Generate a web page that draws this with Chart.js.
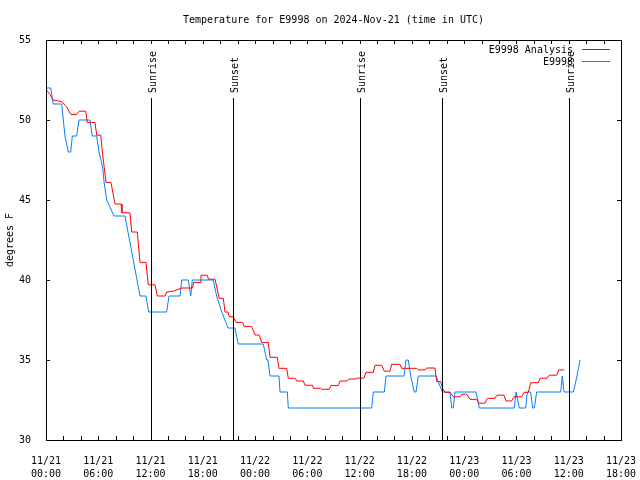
<!DOCTYPE html>
<html>
<head>
<meta charset="utf-8">
<script src="https://cdn.jsdelivr.net/npm/chart.js@4"></script>
<style>
  html, body { margin: 0; padding: 0; background: #ffffff; }
  #grafica { display: block; }
</style>
</head>
<body>
<canvas id="grafica" width="640" height="480"></canvas>
<script>
// hours since 11/21 00:00 UTC
var horasAnalisis = [0, 0.46, 0.80, 1.80, 2.38, 2.84, 3.52, 3.82, 4.56, 4.74, 5.62, 5.82, 6.28, 6.51, 6.69, 6.89, 7.46, 7.92, 8.61, 8.72, 9.64, 9.84, 10.48, 10.79, 11.48, 11.74, 12.51, 12.78, 13.66, 13.85, 14.61, 15.58, 16.84, 16.93, 17.68, 17.79, 18.51, 18.65, 19.40, 19.63, 19.89, 20.35, 20.55, 20.89, 21.04, 21.50, 21.81, 22.58, 22.73, 23.61, 23.99, 24.48, 24.76, 25.52, 25.71, 26.55, 26.74, 27.63, 27.81, 28.58, 28.78, 29.53, 29.73, 30.61, 30.68, 31.53, 31.65, 32.52, 32.71, 33.55, 33.75, 34.58, 34.78, 35.58, 35.73, 36.50, 36.73, 37.57, 37.76, 38.53, 38.83, 39.49, 39.68, 40.63, 40.83, 42.55, 42.73, 43.50, 43.70, 44.65, 44.85, 45.31, 45.54, 45.80, 46.37, 46.75, 47.52, 47.72, 48.29, 48.67, 49.41, 49.70, 50.39, 50.65, 51.54, 51.77, 52.57, 52.80, 53.45, 53.72, 54.60, 54.87, 55.36, 55.64, 56.51, 56.70, 57.51, 57.77, 58.62, 58.85, 59.49]
var tempAnalisis = [51.9, 51.6, 51.25, 51.15, 50.8, 50.35, 50.35, 50.55, 50.55, 49.85, 49.85, 49.05, 49.05, 47.8, 47, 46.1, 46.1, 44.75, 44.75, 44.2, 44.2, 43.0, 43.0, 41.1, 41.1, 39.7, 39.7, 39.0, 39.0, 39.25, 39.3, 39.5, 39.5, 39.85, 39.85, 40.3, 40.3, 40.05, 40.05, 39.5, 38.85, 38.85, 38.0, 38.0, 37.7, 37.7, 37.35, 37.35, 37.1, 37.1, 36.56, 36.56, 36.1, 36.1, 35.17, 35.17, 34.48, 34.48, 33.86, 33.86, 33.69, 33.69, 33.42, 33.42, 33.23, 33.23, 33.17, 33.17, 33.4, 33.4, 33.69, 33.69, 33.81, 33.81, 33.87, 33.87, 34.23, 34.23, 34.67, 34.67, 34.3, 34.3, 34.73, 34.73, 34.48, 34.48, 34.38, 34.38, 34.5, 34.5, 33.65, 33.65, 33.2, 32.98, 32.98, 32.7, 32.7, 32.86, 32.86, 32.54, 32.54, 32.3, 32.3, 32.6, 32.6, 32.8, 32.8, 32.44, 32.44, 32.7, 32.7, 32.98, 32.98, 33.58, 33.58, 33.86, 33.86, 34.05, 34.05, 34.38, 34.38]

var horasEstacion = [0, 0.54, 0.84, 1.80, 1.99, 2.18, 2.56, 2.84, 3.02, 3.52, 3.79, 5.05, 5.31, 5.82, 6.08, 6.51, 6.69, 6.97, 7.81, 9.07, 9.41, 9.76, 10.10, 10.45, 10.79, 11.48, 11.79, 13.85, 14.12, 15.38, 15.58, 16.33, 16.61, 16.79, 19.20, 19.59, 20.17, 20.89, 21.69, 22.07, 24.94, 25.33, 25.48, 25.71, 26.74, 26.86, 27.70, 27.81, 37.38, 37.57, 38.83, 39.03, 41.09, 41.32, 41.59, 41.86, 42.27, 42.47, 42.73, 44.77, 45.49, 46.37, 46.57, 46.75, 46.95, 49.36, 49.74, 53.75, 53.95, 54.33, 55.06, 55.25, 55.64, 55.86, 56.05, 56.32, 59.08, 59.26, 59.46, 60.53, 60.95, 61.29]
var tempEstacion = [52, 52, 51, 51, 50, 49, 48, 48, 49, 49, 50, 50, 49, 49, 48, 47, 46, 45, 44, 44, 43, 42, 41, 40, 39, 39, 38, 38, 39, 39, 40, 40, 39, 40, 40, 39, 38, 37, 37, 36, 36, 35, 35, 34, 34, 33, 33, 32, 32, 33, 33, 34, 34, 35, 35, 34, 33, 33, 34, 34, 33, 33, 32, 32, 33, 33, 32, 32, 33, 32, 32, 33, 33, 32, 32, 33, 33, 34, 33, 33, 34, 35]

var etiquetasSeries = ["E9998 Analysis", "E9998"]
var coloresSeries = ["#ff0000", "#0080ff"]

var horasSol = [12.05, 21.5, 36.07, 45.5, 60.07]
var etiquetasSol = ["Sunrise", "Sunset", "Sunrise", "Sunset", "Sunrise"]

var ticksFecha = ["11/21", "11/21", "11/21", "11/21", "11/22", "11/22", "11/22", "11/22", "11/23", "11/23", "11/23", "11/23"]
var ticksHora = ["00:00", "06:00", "12:00", "18:00", "00:00", "06:00", "12:00", "18:00", "00:00", "06:00", "12:00", "18:00"]

var tituloGrafica = "Temperature for E9998 on 2024-Nov-21 (time in UTC)"
var fuente = "'DejaVu Sans Mono', monospace"

function armarPuntos(horas, temps) {
    var puntos = []
    for (let i = 0; i < horas.length; i++) {
        puntos.push({x: horas[i], y: temps[i]})
    }
    return puntos
}

var decoracion = {
    id: 'decoracion',
    afterDatasetsDraw: function (chart) {
        var ctx = chart.ctx
        var area = chart.chartArea
        var xs = chart.scales.x
        var ys = chart.scales.y
        ctx.save()
        ctx.strokeStyle = "#000000"
        ctx.fillStyle = "#000000"
        ctx.lineWidth = 1
        ctx.font = "10px " + fuente

        // sunrise / sunset
        for (let i = 0; i < horasSol.length; i++) {
            var px = Math.round(xs.getPixelForValue(horasSol[i])) + 0.5
            ctx.beginPath()
            ctx.moveTo(px, area.top + 58)
            ctx.lineTo(px, area.bottom)
            ctx.stroke()
            ctx.save()
            ctx.translate(px + 1.5, area.top + 53)
            ctx.rotate(-Math.PI / 2)
            ctx.textAlign = "left"
            ctx.textBaseline = "middle"
            ctx.fillText(etiquetasSol[i], 0, 0)
            ctx.restore()
        }

        // ticks on all four sides
        ctx.beginPath()
        for (let h = 0; h <= 66; h += 2) {
            var tx = Math.round(xs.getPixelForValue(h)) + 0.5
            ctx.moveTo(tx, area.bottom)
            ctx.lineTo(tx, area.bottom - 4)
            ctx.moveTo(tx, area.top)
            ctx.lineTo(tx, area.top + 4)
        }
        for (let t = 30; t <= 55; t += 5) {
            var ty = Math.round(ys.getPixelForValue(t)) + 0.5
            ctx.moveTo(area.left, ty)
            ctx.lineTo(area.left + 4, ty)
            ctx.moveTo(area.right, ty)
            ctx.lineTo(area.right - 4, ty)
        }
        ctx.stroke()

        // frame
        ctx.strokeRect(Math.round(area.left) + 0.5, Math.round(area.top) + 0.5,
            Math.round(area.right - area.left), Math.round(area.bottom - area.top))

        // title
        ctx.textAlign = "center"
        ctx.textBaseline = "middle"
        ctx.fillText(tituloGrafica, (area.left + area.right) / 2, 20)

        // legend
        for (let i = 0; i < etiquetasSeries.length; i++) {
            var ly = area.top + 10 + i * 12
            ctx.textAlign = "right"
            ctx.fillStyle = "#000000"
            ctx.fillText(etiquetasSeries[i], area.right - 48, ly)
            ctx.strokeStyle = coloresSeries[i]
            ctx.beginPath()
            ctx.moveTo(area.right - 39, Math.round(ly) - 0.5)
            ctx.lineTo(area.right - 11, Math.round(ly) - 0.5)
            ctx.stroke()
        }
        ctx.restore()
    }
}

var ctx = document.getElementById('grafica').getContext('2d');

new Chart(ctx, {
    type: 'line',
    data: {
        datasets: [{
            label: etiquetasSeries[0],
            data: armarPuntos(horasAnalisis, tempAnalisis),
            borderColor: coloresSeries[0],
            borderWidth: 1,
            pointRadius: 0,
            tension: 0
        }, {
            label: etiquetasSeries[1],
            data: armarPuntos(horasEstacion, tempEstacion),
            borderColor: coloresSeries[1],
            borderWidth: 1,
            pointRadius: 0,
            tension: 0
        }]
    },
    options: {
        responsive: false,
        animation: false,
        devicePixelRatio: 1,
        events: [],
        layout: {padding: {top: 40, right: 19, left: 0, bottom: 0}},
        plugins: {
            legend: {display: false},
            title: {display: false},
            tooltip: {enabled: false}
        },
        scales: {
            x: {
                type: 'linear',
                min: 0,
                max: 66,
                grid: {display: false},
                border: {display: false},
                afterFit: function (scale) {
                    scale.height = 40
                    scale.paddingLeft = 0
                    scale.paddingRight = 0
                },
                afterBuildTicks: function (scale) {
                    var t = []
                    for (let i = 0; i < ticksHora.length; i++) t.push({value: i * 6})
                    scale.ticks = t
                },
                ticks: {
                    color: "#000000",
                    padding: 7,
                    maxRotation: 0,
                    autoSkip: false,
                    font: {family: fuente, size: 10, lineHeight: 1.3},
                    callback: function (value, index) {
                        return [ticksFecha[index], ticksHora[index]]
                    }
                }
            },
            y: {
                min: 30,
                max: 55,
                grid: {display: false},
                border: {display: false},
                afterFit: function (scale) {
                    scale.width = 46
                    scale.paddingTop = 0
                    scale.paddingBottom = 0
                },
                ticks: {
                    stepSize: 5,
                    color: "#000000",
                    padding: 7,
                    font: {family: fuente, size: 10}
                },
                title: {
                    display: true,
                    text: "degrees F",
                    color: "#000000",
                    font: {family: fuente, size: 10}
                }
            }
        }
    },
    plugins: [decoracion]
});
</script>
</body>
</html>
